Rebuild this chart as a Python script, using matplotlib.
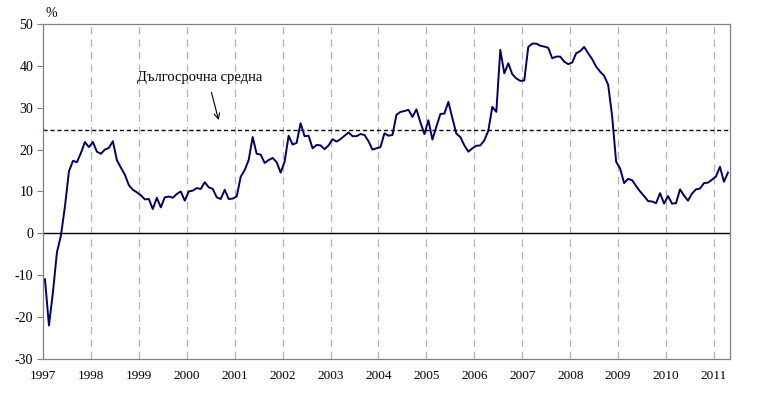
import numpy as np
import matplotlib.pyplot as plt

# monthly values, Jan 1997 - Apr 2011 (%)
v1997 = [-11, -22, -14, -4.5, -0.5, 6.4, 14.8, 17.3, 17, 19.2, 21.8, 20.6]
v1998 = [21.8, 19.5, 19, 20, 20.4, 22, 17.5, 15.7, 14, 11.5, 10.4, 9.8]
v1999 = [9.1, 8.1, 8.2, 5.8, 8.5, 6.2, 8.6, 8.8, 8.5, 9.4, 10, 7.8]
v2000 = [10, 10.2, 10.8, 10.6, 12.2, 11, 10.6, 8.6, 8.2, 10.4, 8.2, 8.3]
v2001 = [8.8, 13.5, 15.1, 17.5, 23, 19, 18.8, 16.8, 17.5, 18, 17, 14.5]
v2002 = [17.1, 23.3, 21.2, 21.6, 26.3, 23.2, 23.3, 20.3, 21.1, 21, 20.1, 21]
v2003 = [22.5, 21.9, 22.5, 23.3, 24.1, 23.2, 23.2, 23.7, 23.5, 22, 20, 20.3]
v2004 = [20.6, 23.9, 23.3, 23.5, 28.3, 29, 29.2, 29.5, 27.8, 29.6, 26.5, 23.7]
v2005 = [27, 22.4, 25.5, 28.5, 28.6, 31.4, 27.5, 23.8, 23, 21, 19.5, 20.3]
v2006 = [20.9, 21, 22.2, 24.5, 30.2, 29, 43.8, 38.2, 40.6, 38, 37, 36.4]
v2007 = [36.5, 44.5, 45.3, 45.3, 44.8, 44.6, 44.3, 41.8, 42.2, 42.2, 41, 40.4]
v2008 = [40.8, 43, 43.5, 44.5, 43, 41.6, 39.8, 38.6, 37.6, 35.5, 28, 17.1]
v2009 = [15.5, 12, 13, 12.7, 11.3, 10, 8.9, 7.7, 7.6, 7.2, 9.6, 7.1]
v2010 = [8.9, 7.1, 7.2, 10.5, 9, 7.8, 9.5, 10.5, 10.7, 12, 12.1, 12.8]
v2011 = [13.6, 15.9, 12.3, 14.5]

long_term_mean = 24.7
years = list(range(1997, 2012))
annot_text = 'Дългосрочна средна'

values = np.array(v1997 + v1998 + v1999 + v2000 + v2001 + v2002 + v2003 + v2004
                  + v2005 + v2006 + v2007 + v2008 + v2009 + v2010 + v2011)
x = 1997 + (np.arange(len(values)) + 0.5) / 12.0
x_end = 1997 + len(values) / 12.0

plt.rcParams['font.family'] = ['Liberation Serif', 'DejaVu Serif']
plt.rcParams['axes.unicode_minus'] = False

fig = plt.figure(figsize=(7.58, 3.99), dpi=100)
ax = fig.add_axes([0.0567, 0.1003, 0.9063, 0.8397])

ax.set_xlim(1997, x_end)
ax.set_ylim(-30, 50)

for yr in years[1:]:
    ax.axvline(yr, color='#b4b4b4', lw=0.9, ls=(0, (6, 4)), zorder=1)

ax.axhline(0, color='black', lw=1.0, zorder=2)
ax.plot([1997, x_end], [long_term_mean, long_term_mean], color='black', lw=1.0,
        ls=(0, (3, 2)), zorder=2)
ax.plot([1997.02], [long_term_mean], marker='s', ms=1.8, color='#cc3399',
        mew=0, zorder=3)

ax.plot(x, values, color='#000066', lw=1.4, zorder=4)

ax.annotate('', xy=(2000.68, 26.4), xytext=(2000.5, 34.3),
            arrowprops=dict(arrowstyle='->', color='black', lw=0.8))
ax.text(1998.97, 37.2, annot_text, fontsize=10.5, ha='left', va='center')

ax.set_yticks(np.arange(-30, 51, 10))
ax.set_xticks(years)
ax.set_xticklabels([str(y) for y in years])
ax.tick_params(axis='y', direction='out', length=4, width=0.8, color='#808080',
               labelsize=10, pad=3)
ax.tick_params(axis='x', length=0, labelsize=9.5, pad=8)

for s in ax.spines.values():
    s.set_color('#808080')
    s.set_linewidth(0.9)

fig.text(0.068, 0.965, '%', fontsize=10, ha='center', va='center')

fig.savefig('out.png', dpi=100)
